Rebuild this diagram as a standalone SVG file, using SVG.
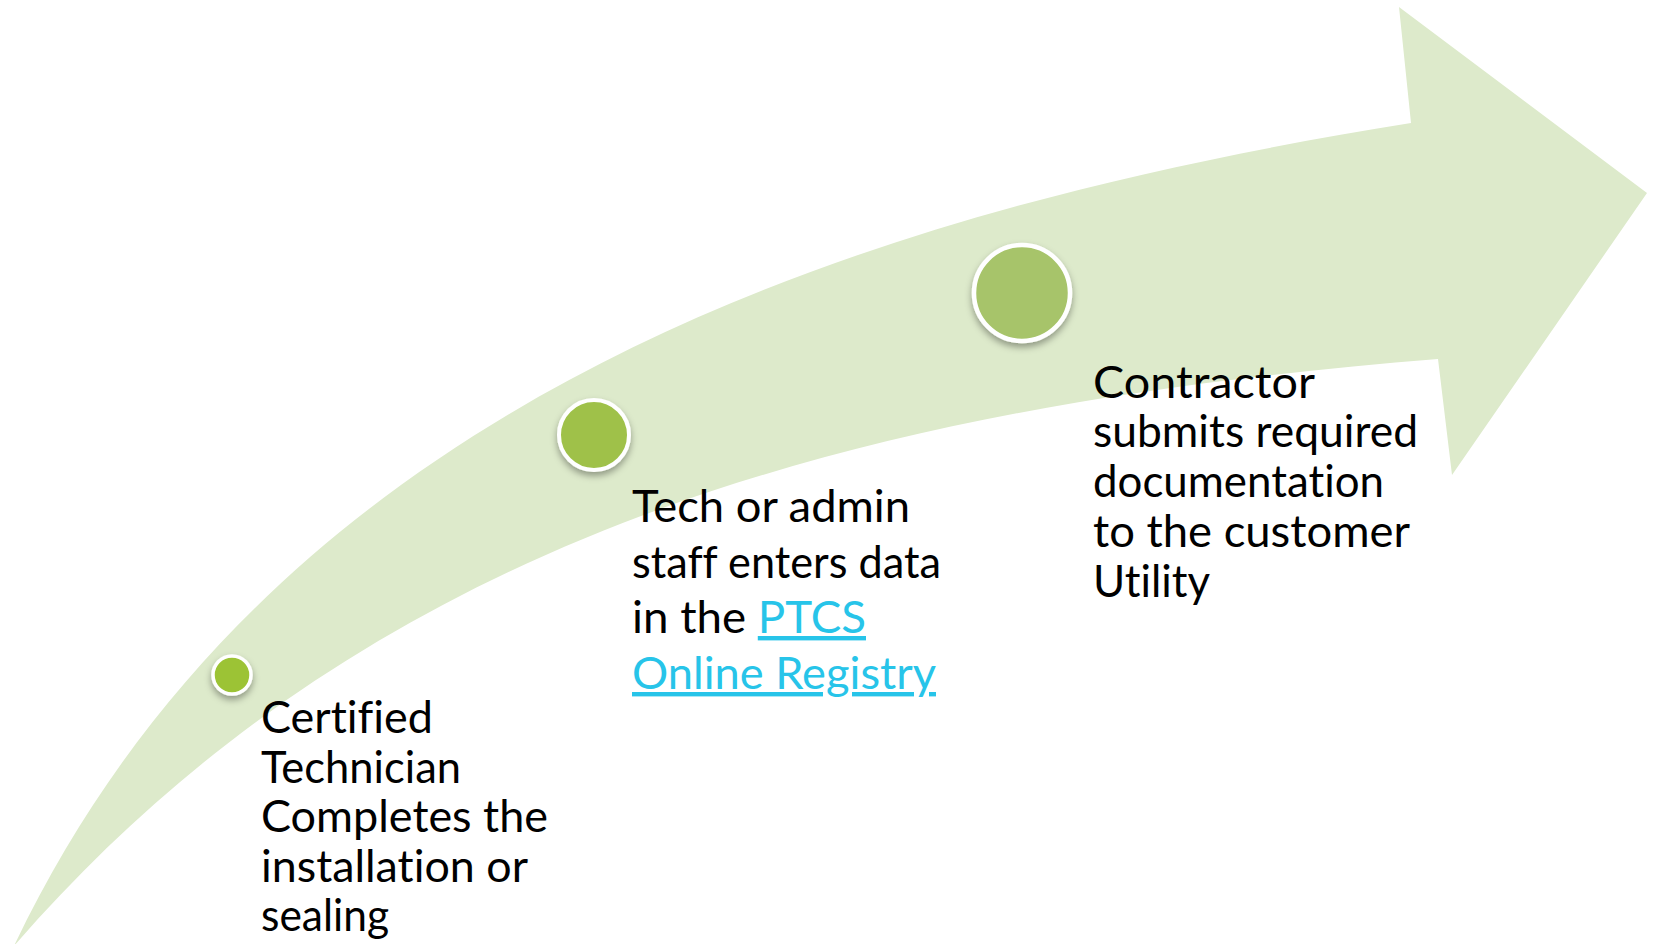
<svg xmlns="http://www.w3.org/2000/svg" width="1653" height="944" viewBox="0 0 1653 944">
  <defs>
    <filter id="shadow" x="-50%" y="-50%" width="200%" height="200%">
      <feDropShadow dx="0" dy="4" stdDeviation="3.5" flood-color="#000" flood-opacity="0.35"/>
    </filter>
  </defs>
  <style>
    .band { fill: #DDEACB; }
    .dot { stroke: #FFFFFF; filter: url(#shadow); }
    .label { font-family: "Lato", "Liberation Sans", sans-serif; font-size: 44px; fill: #000000; font-variant-ligatures: none; }
    .link { fill: #27C4E9; text-decoration: underline; }
  </style>
  <rect width="1653" height="944" fill="#FFFFFF"/>
  <g id="connectors">
    <path id="arrow" class="band" d="M14,946 C275,397 861,211 1411,123 L1399,7 L1647,193 L1452,475 L1438,359 C838,407 364,543 14,946 Z"/>
  </g>
  <g id="step1">
    <circle cx="232" cy="675" r="19" fill="#9CC334" stroke-width="3.5" class="dot"/>
    <text class="label">
      <tspan x="261" y="733" textLength="172" lengthAdjust="spacingAndGlyphs">Certified</tspan>
      <tspan x="261" y="783" textLength="200" lengthAdjust="spacingAndGlyphs">Technician</tspan>
      <tspan x="261" y="832" textLength="287" lengthAdjust="spacingAndGlyphs">Completes the</tspan>
      <tspan x="261" y="882" textLength="266" lengthAdjust="spacingAndGlyphs">installation or</tspan>
      <tspan x="261" y="931" textLength="128" lengthAdjust="spacingAndGlyphs">sealing</tspan>
    </text>
  </g>
  <g id="step2">
    <circle cx="594" cy="435" r="35" fill="#9FC14A" stroke-width="4" class="dot"/>
    <text class="label" x="632" y="522" textLength="278" lengthAdjust="spacingAndGlyphs">Tech or admin</text>
    <text class="label" x="632" y="578" textLength="309" lengthAdjust="spacingAndGlyphs">staff enters data</text>
    <text class="label" x="632" y="633" textLength="234" lengthAdjust="spacingAndGlyphs">in the <tspan class="link">PTCS</tspan></text>
    <text class="label link" x="632" y="689" textLength="304" lengthAdjust="spacingAndGlyphs">Online Registry</text>
  </g>
  <g id="step3">
    <circle cx="1022" cy="293" r="48" fill="#A7C46A" stroke-width="4.5" class="dot"/>
    <text class="label">
      <tspan x="1093" y="398" textLength="221" lengthAdjust="spacingAndGlyphs">Contractor</tspan>
      <tspan x="1093" y="447" textLength="325" lengthAdjust="spacingAndGlyphs">submits required</tspan>
      <tspan x="1093" y="497" textLength="291" lengthAdjust="spacingAndGlyphs">documentation</tspan>
      <tspan x="1093" y="547" textLength="316" lengthAdjust="spacingAndGlyphs">to the customer</tspan>
      <tspan x="1093" y="597" textLength="117" lengthAdjust="spacingAndGlyphs">Utility</tspan>
    </text>
  </g>
</svg>
